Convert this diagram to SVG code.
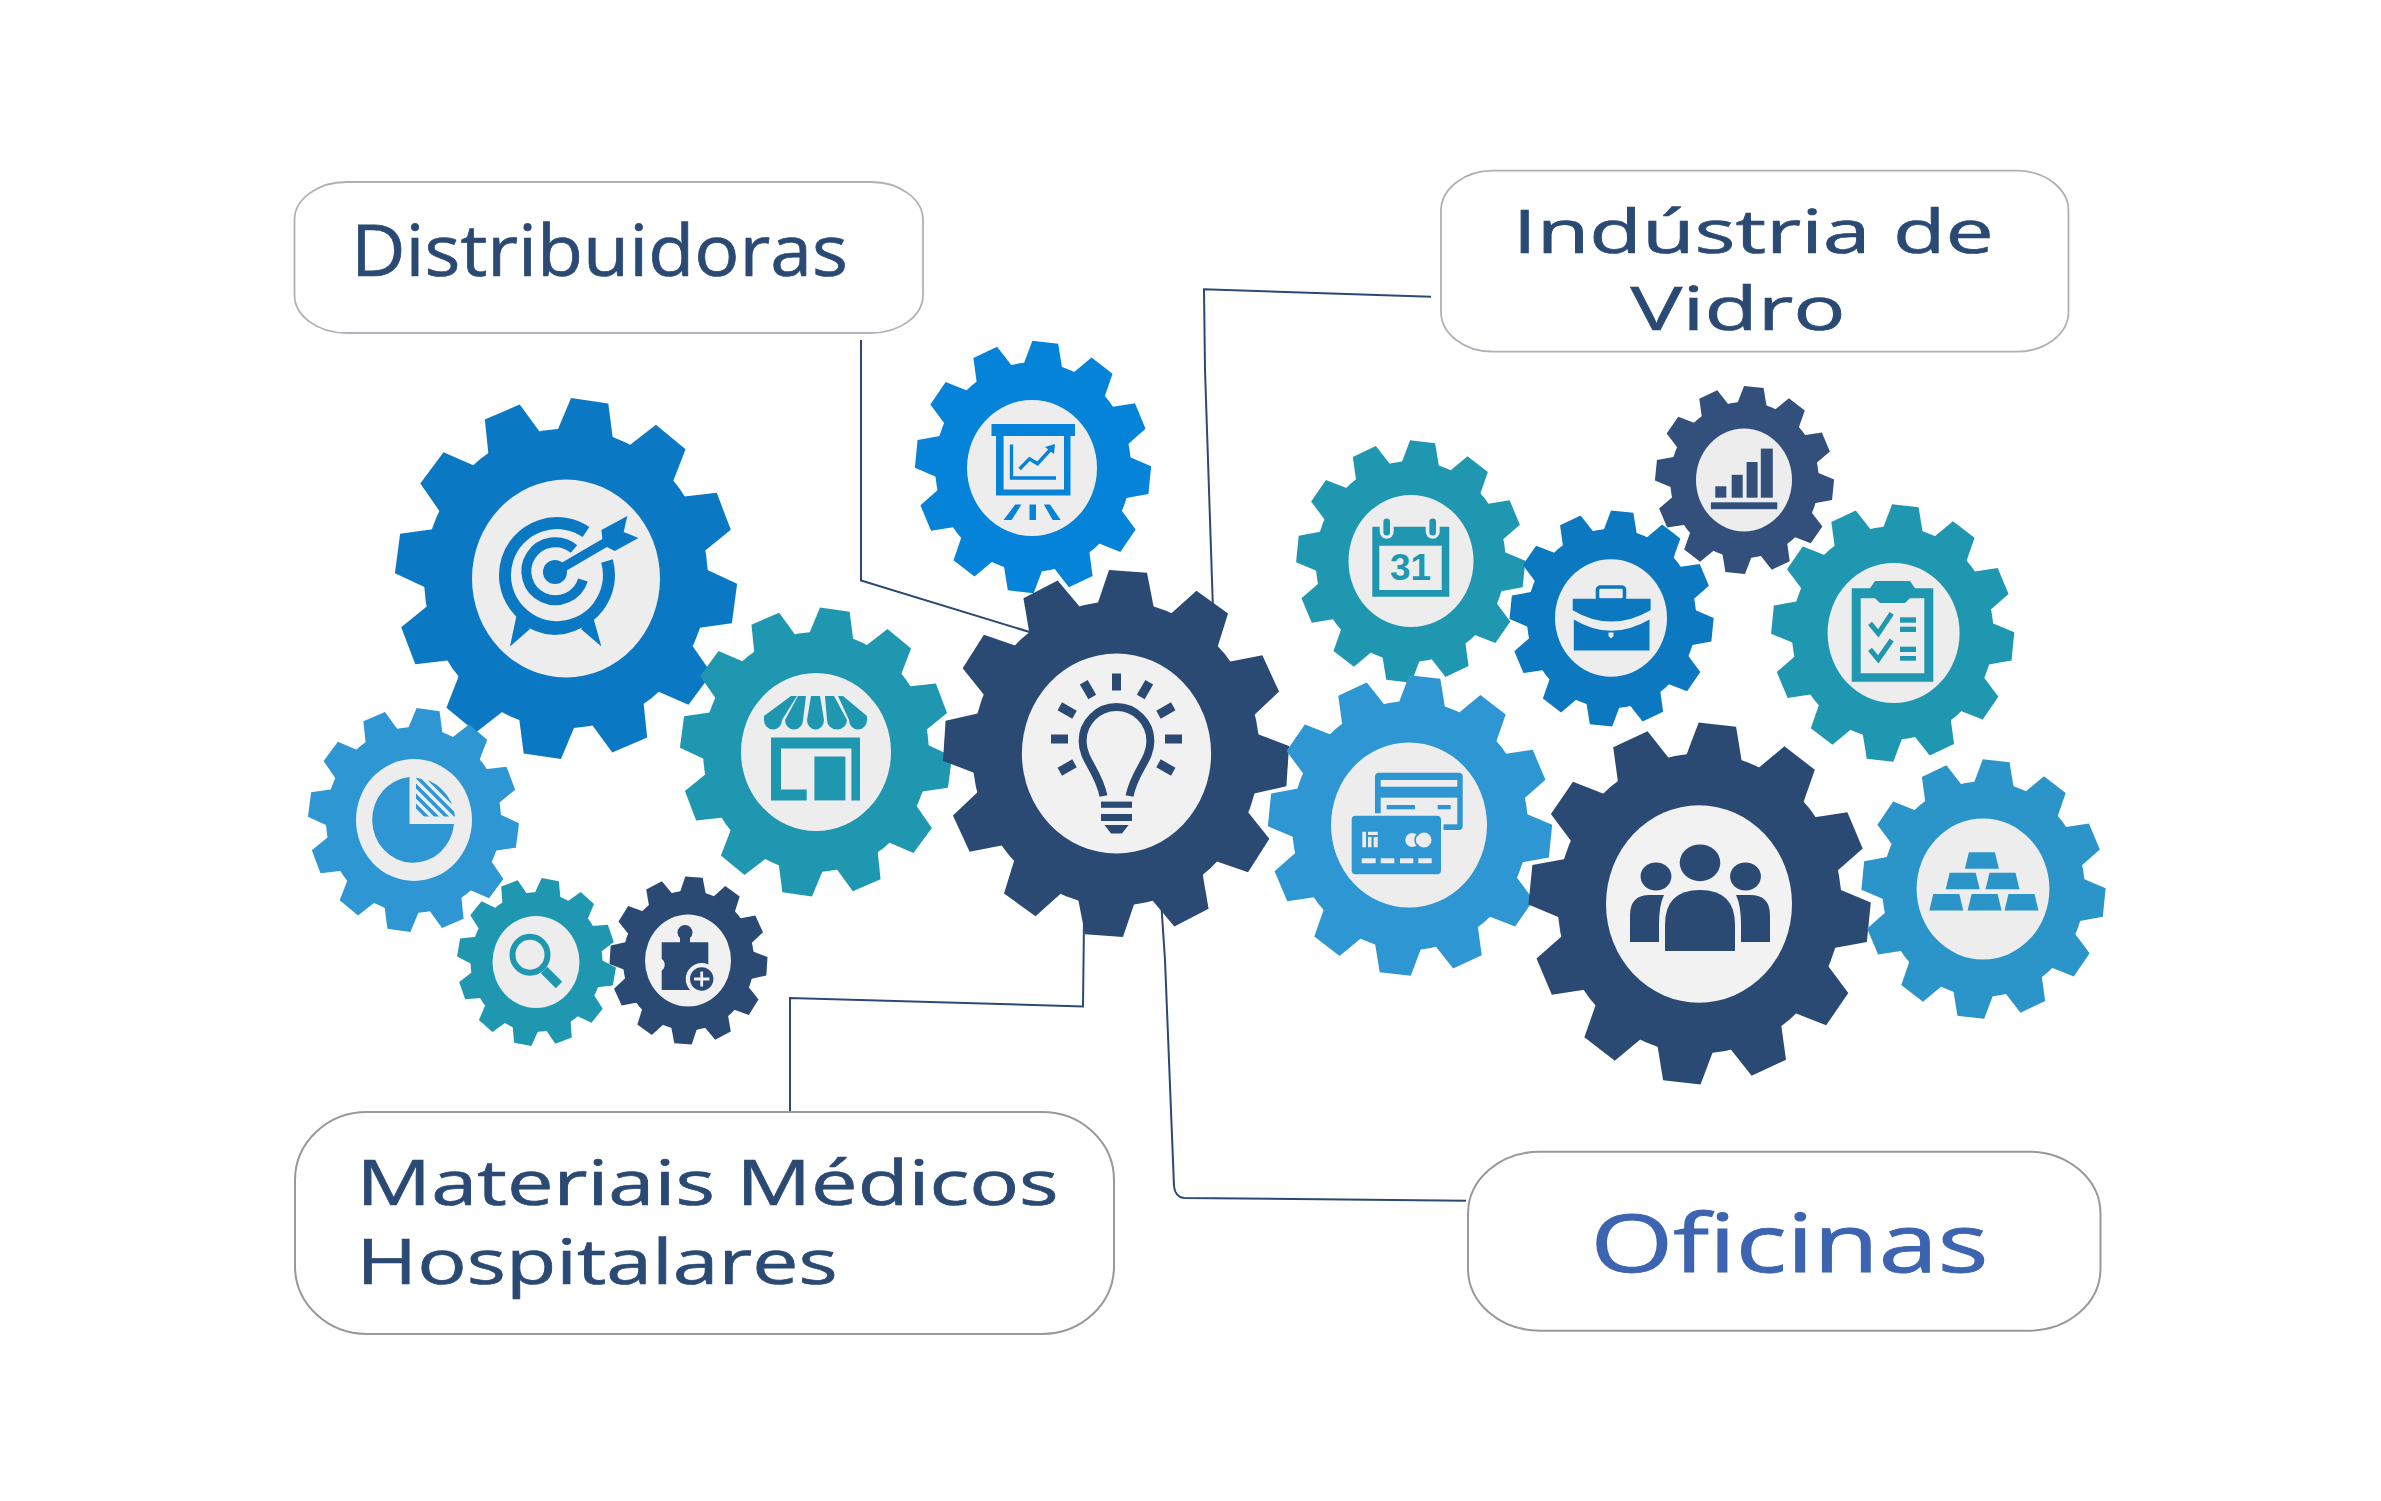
<svg xmlns="http://www.w3.org/2000/svg" width="2381" height="1501" viewBox="0 0 2381 1501">
<style>
.box{fill:#fff;stroke:#b0b0b8;stroke-width:1.8}
.box2{fill:#fff;stroke:#999;stroke-width:2}
.lbl{font-family:"Open Sans","Liberation Sans",sans-serif;fill:#2a4a74;stroke:#2a4a74;stroke-width:.7}
.con{fill:none;stroke:#2a4a74;stroke-width:2}
.disc{fill:#ededee}
.lt{fill:#ededee}
.s{fill:none;stroke-linecap:butt}
</style>
<defs>
<path id="tooth" d="M-16.5,-80 L-11,-99.5 L11,-99.5 L16.5,-80Z"/>
<g id="gear">
<circle r="83"/>
<use href="#tooth"/>
<use href="#tooth" transform="rotate(30)"/>
<use href="#tooth" transform="rotate(60)"/>
<use href="#tooth" transform="rotate(90)"/>
<use href="#tooth" transform="rotate(120)"/>
<use href="#tooth" transform="rotate(150)"/>
<use href="#tooth" transform="rotate(180)"/>
<use href="#tooth" transform="rotate(210)"/>
<use href="#tooth" transform="rotate(240)"/>
<use href="#tooth" transform="rotate(270)"/>
<use href="#tooth" transform="rotate(300)"/>
<use href="#tooth" transform="rotate(330)"/>
</g>
<rect id="ray" x="-4.5" y="-65.5" width="9" height="17"/>
<path id="bar" d="M4,0 L30,0 L34,16.5 L0,16.5Z"/>
<clipPath id="wedge"><path d="M416,816.5 L416,778 A41,43 0 0 1 455,816.5Z"/></clipPath>
</defs>
<rect width="2381" height="1501" fill="#fff"/>

<g id="connectors">
<path class="con" d="M861,340 L861,580.5 L1036,634"/>
<path class="con" d="M1431,296.7 L1204,289.3 L1205,370 L1213,610"/>
<path class="con" d="M790,1112 L790,998 L1083,1006.5 L1084,920"/>
<path class="con" d="M1161,900 L1165,960 L1174,1186 Q1175,1197 1184,1198 L1466,1200.7"/>
</g>

<g id="box-distribuidoras">
<rect class="box" x="294.5" y="182" width="628.5" height="151" rx="52" ry="38"/>
<text class="lbl" x="351" y="276.3" font-size="72" textLength="497" lengthAdjust="spacingAndGlyphs">Distribuidoras</text>
</g>
<g id="box-industria">
<rect class="box" x="1441" y="170.7" width="627.5" height="181" rx="52" ry="40"/>
<text class="lbl" x="1512.7" y="253.3" font-size="61" textLength="481" lengthAdjust="spacingAndGlyphs">Indústria de</text>
<text class="lbl" x="1630.6" y="330" font-size="61" textLength="215" lengthAdjust="spacingAndGlyphs">Vidro</text>
</g>
<g id="box-materiais">
<rect class="box2" x="295" y="1112" width="819" height="222" rx="72" ry="68"/>
<text class="lbl" x="356.6" y="1205" font-size="62" textLength="702" lengthAdjust="spacingAndGlyphs">Materiais Médicos</text>
<text class="lbl" x="356.6" y="1284" font-size="62" textLength="481" lengthAdjust="spacingAndGlyphs">Hospitalares</text>
</g>
<g id="box-oficinas">
<rect class="box2" x="1468" y="1151.7" width="632.5" height="179" rx="72" ry="62"/>
<text class="lbl" x="1590.5" y="1271.7" font-size="80" textLength="398" lengthAdjust="spacingAndGlyphs" style="fill:#3d64b0;stroke:#3d64b0;stroke-width:1">Oficinas</text>
</g>

<g id="gear-target" fill="#0b78c4">
<use href="#gear" transform="translate(566,578.5) scale(1.71,1.805) rotate(8)"/>
<ellipse class="disc" cx="566" cy="578.5" rx="94" ry="99"/>
<g class="s" stroke="#0b78c4">
<path d="M586,532 A52,52 0 1 0 607,561" stroke-width="12"/>
<path d="M574,549 A29,29 0 1 0 583,580" stroke-width="10"/>
<path d="M520,618 Q555,645 590,618" stroke-width="7"/>
<path d="M555,572 L608,541" stroke-width="9"/>
</g>
<circle cx="555" cy="572" r="12"/>
<path d="M601.4,530 L627.3,516 L623.7,532 L638.5,538 L614.8,551 L603,545Z"/>
<path d="M516.6,615 L510,646.6 L530,629Z M592.5,615 L601.4,646.6 L581,629Z"/>
</g>

<g id="gear-shop" fill="#2097b0">
<use href="#gear" transform="translate(816,752) scale(1.36,1.445) rotate(8)"/>
<ellipse class="disc" cx="816" cy="752" rx="75" ry="79"/>
<path d="M791,696 L797,696 L782,720 A9,9.5 0 0 1 764,720 L764,716Z"/>
<path d="M798,696 L806,696 L803,720 A9,9.5 0 0 1 785,720Z"/>
<path d="M811,696 L820,696 L824,720 A8.5,9.5 0 0 1 807,720Z"/>
<path d="M825,696 L834,696 L847,720 A10,9.5 0 0 1 827,720Z"/>
<path d="M838,696 L843,696 L867,716 L867,720 A9,9.5 0 0 1 849,720Z"/>
<path d="M771,737.6 H860 V800.4 H851.4 V748.5 H781 V789.6 H806.7 V800.4 H771Z"/>
<rect x="814.4" y="756.5" width="31" height="43.9"/>
</g>

<g id="gear-pie" fill="#2e96d2">
<use href="#gear" transform="translate(413.5,820) scale(1.055,1.12) rotate(8)"/>
<ellipse class="disc" cx="414" cy="820" rx="58" ry="61"/>
<path d="M409.5,777 A41,43 0 1 0 454,824 L409.5,824Z"/>
<g clip-path="url(#wedge)" stroke="#2e96d2" stroke-width="3.6">
<path d="M400,770 L460,830 M410,770 L470,830 M420,770 L480,830 M390,770 L450,830 M380,770 L440,830 M430,770 L490,830"/>
</g>
</g>

<g id="gear-search" fill="#2097b0">
<use href="#gear" transform="translate(536.5,962) scale(.795,.84) rotate(10)"/>
<ellipse class="disc" cx="536" cy="962" rx="43.5" ry="46"/>
<ellipse cx="530" cy="954.7" rx="17.5" ry="18" fill="none" stroke="#2097b0" stroke-width="6"/>
<path d="M544,970 L559,985" stroke="#2097b0" stroke-width="9" fill="none"/>
</g>

<g id="gear-puzzle" fill="#2a4a74">
<use href="#gear" transform="translate(688.5,960.5) scale(.79,.84) rotate(4)"/>
<ellipse class="disc" cx="688" cy="960.5" rx="43" ry="46" style="fill:#f1f1f2"/>
<path d="M661.7,942.3 H680 V938 A7.5,7.5 0 1 1 690,938 V942.3 H708.3 V990 H661.7 V970.5 A7,7 0 0 0 661.7,959Z"/>
<circle cx="701.7" cy="979" r="16" style="fill:#f1f1f2"/>
<circle cx="701.7" cy="979" r="11.7"/>
<path d="M694,977.6 H700.3 V971.5 H703.1 V977.6 H709.4 V980.4 H703.1 V986.5 H700.3 V980.4 H694Z" style="fill:#f1f1f2"/>
</g>

<g id="gear-presentation" fill="#0583d8">
<use href="#gear" transform="translate(1033,467) scale(1.18,1.26) rotate(6)"/>
<ellipse class="disc" cx="1032" cy="468" rx="65" ry="68"/>
<rect x="991.5" y="424" width="83.5" height="12"/>
<path d="M996,436 H1070.5 V495.5 H996Z M1003.6,436 V489.4 H1064 V436Z" fill-rule="evenodd"/>
<path d="M1011.5,444.5 V478 H1056" fill="none" stroke="#0583d8" stroke-width="3.4"/>
<path d="M1019.6,469 L1029.5,458.8 L1037.5,463.7 L1051,449" fill="none" stroke="#0583d8" stroke-width="3.4"/>
<path d="M1045,447 L1055,444 L1054,454Z"/>
<path d="M1003.6,520 H1011.6 L1021.4,504.5 H1015.2Z M1029.5,504.5 H1036 V520 H1029.5Z M1060.7,520 H1052.7 L1043.8,504.5 H1050Z"/>
</g>

<g id="gear-bulb" fill="#2a4a74">
<use href="#gear" transform="translate(1116,753.5) scale(1.73,1.835) rotate(4)"/>
<ellipse class="disc" cx="1116.5" cy="753.5" rx="94.6" ry="100" style="fill:#f1f1f2"/>
<g transform="translate(1116.5,739)">
<use href="#ray"/>
<use href="#ray" transform="rotate(30)"/>
<use href="#ray" transform="rotate(-30)"/>
<use href="#ray" transform="rotate(60)"/>
<use href="#ray" transform="rotate(-60)"/>
<use href="#ray" transform="rotate(90)"/>
<use href="#ray" transform="rotate(-90)"/>
<use href="#ray" transform="rotate(120)"/>
<use href="#ray" transform="rotate(-120)"/>
</g>
<path d="M1103.5,796 C1098,770 1082.6,760 1082.6,741 A33.9,33.9 0 0 1 1150.4,741 C1150.4,760 1135,770 1129.5,796" fill="none" stroke="#2a4a74" stroke-width="8"/>
<rect x="1101" y="801.6" width="31" height="6.2"/>
<rect x="1101" y="814" width="31" height="7"/>
<path d="M1104.5,825 H1128.6 L1122,833.5 H1111Z"/>
</g>

<g id="gear-calendar" fill="#2097b0">
<use href="#gear" transform="translate(1410.7,561.5) scale(1.145,1.21) rotate(6)"/>
<ellipse class="disc" cx="1411" cy="561" rx="62.5" ry="66"/>
<path d="M1372.3,526.7 H1449.3 V596.7 H1372.3Z M1379.3,545.7 V590 H1441.7 V545.7Z" fill-rule="evenodd"/>
<rect class="lt" x="1379.7" y="516.7" width="14" height="22" rx="7"/>
<rect x="1383.4" y="518.5" width="6.6" height="17" rx="3.3"/>
<rect class="lt" x="1425.7" y="516.7" width="14" height="22" rx="7"/>
<rect x="1429.4" y="518.5" width="6.6" height="17" rx="3.3"/>
<text x="1410.5" y="580" text-anchor="middle" font-family="'Liberation Sans',sans-serif" font-weight="700" font-size="37">31</text>
</g>

<g id="gear-cards" fill="#2e96d2">
<use href="#gear" transform="translate(1410,825.5) scale(1.42,1.5) rotate(6)"/>
<ellipse class="disc" cx="1409" cy="825" rx="78" ry="82.6"/>
<rect x="1375" y="772.7" width="87.7" height="57.3" rx="4"/>
<rect class="lt" x="1380.7" y="780" width="76.6" height="6.7"/>
<rect class="lt" x="1380.7" y="797.7" width="76.6" height="26.6"/>
<rect x="1386.7" y="805" width="28.3" height="4.3"/>
<rect x="1437.7" y="805" width="13" height="4.3"/>
<rect x="1351.7" y="815.7" width="89.3" height="58.6" rx="4" stroke="#ededee" stroke-width="5" paint-order="stroke"/>
<g class="lt">
<path d="M1362.3,831.7 H1366 V847.3 H1362.3Z M1368,831.7 H1377.7 V835 H1368Z M1368,837 H1371.5 V847.3 H1368Z M1373.7,837 H1377.7 V847.3 H1373.7Z"/>
<circle cx="1412.3" cy="840" r="7"/>
<circle cx="1424" cy="840" r="7.5"/>
<rect x="1361.7" y="858.3" width="14" height="5"/>
<rect x="1380.7" y="858.3" width="13.6" height="5"/>
<rect x="1400" y="858.3" width="13.3" height="5"/>
<rect x="1418.3" y="858.3" width="13.4" height="5"/>
</g>
<path d="M1418.5,834 A7,7 0 0 0 1418.5,846" fill="none" stroke="#2e96d2" stroke-width="1.6"/>
</g>

<g id="gear-briefcase" fill="#0b78c0">
<use href="#gear" transform="translate(1611.6,618.5) scale(1.02,1.08) rotate(6)"/>
<ellipse class="disc" cx="1611" cy="618" rx="56" ry="58.8"/>
<rect x="1597.5" y="587" width="27" height="13" rx="3" fill="none" stroke="#0b78c0" stroke-width="3.6"/>
<path d="M1572.7,598.8 H1650.6 V610.2 Q1611,633 1572.7,610.2Z"/>
<path d="M1573.8,619.4 Q1611,642 1649.5,619.4 V650.6 H1573.8Z"/>
<path class="lt" d="M1608.5,632.5 H1613.5 V636 L1611,638.5 L1608.5,636Z"/>
</g>

<g id="gear-chart" fill="#334f7c">
<use href="#gear" transform="translate(1744.5,480) scale(.895,.94) rotate(6)"/>
<ellipse class="disc" cx="1744" cy="480" rx="48" ry="51.4"/>
<rect x="1715.3" y="486.3" width="11" height="11.4"/>
<rect x="1731.7" y="474.8" width="11" height="22.9"/>
<rect x="1746.6" y="462" width="11" height="35.7"/>
<rect x="1760.8" y="448.6" width="12" height="49.1"/>
<rect x="1710.9" y="502.3" width="66.4" height="6.9"/>
</g>

<g id="gear-clipboard" fill="#2097b0">
<use href="#gear" transform="translate(1892.7,633) scale(1.215,1.285) rotate(6)"/>
<ellipse class="disc" cx="1893.6" cy="633" rx="66" ry="70"/>
<path d="M1851.7,588.3 H1870 L1875,581 H1910 L1915,588.3 H1933.3 V681.7 H1851.7Z M1860.7,598.3 V673.3 H1924.3 V598.3 H1910 L1905,603 H1880 L1875,598.3Z" fill-rule="evenodd"/>
<g fill="none" stroke="#2097b0" stroke-width="5">
<path d="M1870,623.3 L1878.3,633.3 L1891.7,613.3"/>
<path d="M1870,649.3 L1878.3,659.3 L1891.7,640"/>
</g>
<rect x="1900" y="617.3" width="16" height="5.4"/>
<rect x="1900" y="626.7" width="16" height="5.3"/>
<rect x="1900" y="646.7" width="16" height="5.3"/>
<rect x="1900" y="656" width="16" height="4.7"/>
</g>

<g id="gear-people" fill="#2a4a74">
<use href="#gear" transform="translate(1699.6,903.5) scale(1.71,1.807) rotate(6)"/>
<ellipse class="disc" cx="1699" cy="904" rx="93" ry="98.7" style="fill:#f2f2f3"/>
<ellipse cx="1700" cy="862.8" rx="20.3" ry="18.4"/>
<ellipse cx="1656" cy="876.5" rx="15.4" ry="14"/>
<ellipse cx="1745.5" cy="876.5" rx="15.4" ry="14"/>
<path d="M1665,951 V925 Q1665,890 1700,890 Q1735,890 1735,925 V951Z"/>
<path d="M1630,942 V915 Q1630,895 1650,895 H1664 Q1659,905 1659,925 V942Z"/>
<path d="M1770,942 V915 Q1770,895 1750,895 H1736 Q1741,905 1741,925 V942Z"/>
</g>

<g id="gear-gold" fill="#2b94c8">
<use href="#gear" transform="translate(1983.5,889) scale(1.22,1.297) rotate(6)"/>
<ellipse class="disc" cx="1983" cy="889" rx="66.4" ry="70.5"/>
<use href="#bar" x="1964.9" y="852.2"/>
<use href="#bar" x="1945.7" y="872.8"/>
<use href="#bar" x="1985.5" y="872.8"/>
<use href="#bar" x="1929.3" y="893.9"/>
<use href="#bar" x="1967.6" y="893.9"/>
<use href="#bar" x="2004.5" y="893.9"/>
</g>
</svg>
